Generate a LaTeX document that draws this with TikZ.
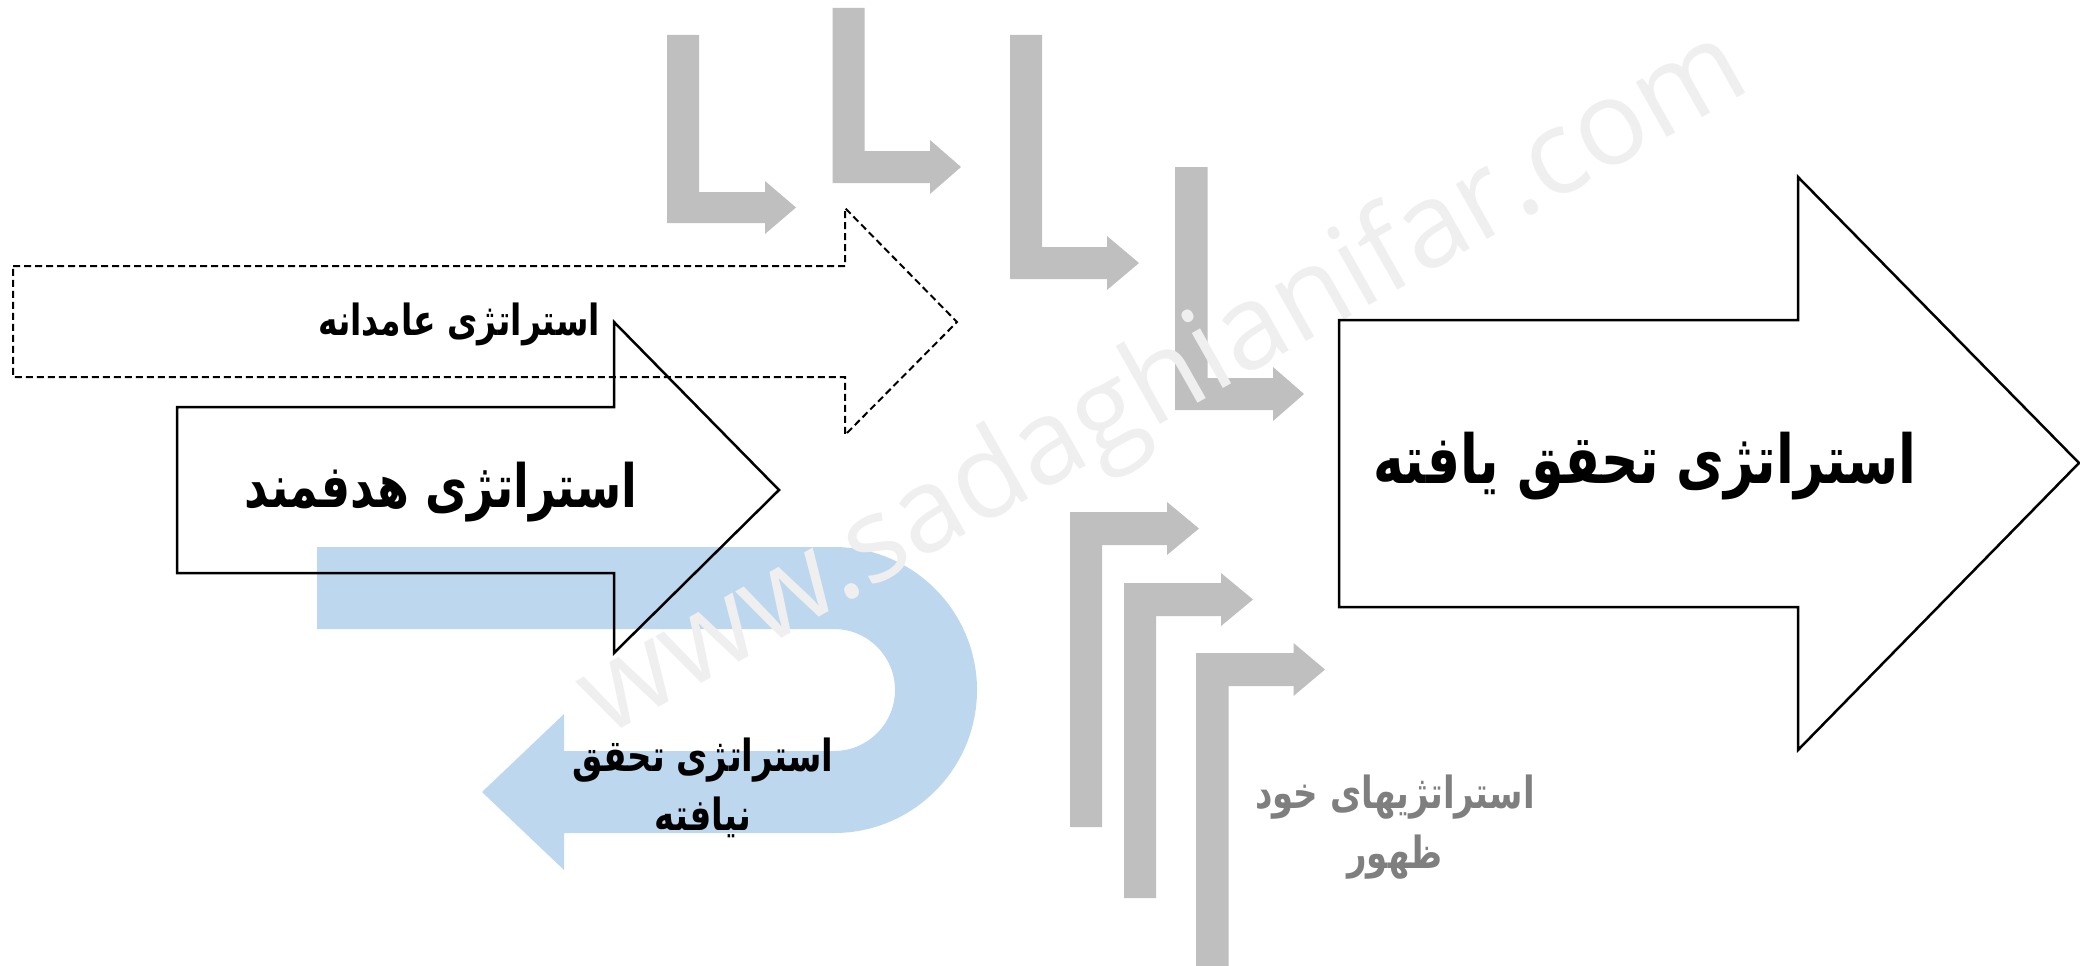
\documentclass[tikz,border=0pt]{standalone}
\usepackage{fontspec}
\newfontfamily\fa[Script=Arabic]{DejaVu Sans}
\newfontfamily\wmfont{Open Sans}
\TeXXeTstate=1
\definecolor{arrgray}{HTML}{BFBFBF}
\definecolor{ublue}{HTML}{BDD7EE}
\definecolor{wmgray}{HTML}{EFEFEF}
\definecolor{txtgray}{HTML}{7F7F7F}
\newcommand{\faline}[1]{\scalebox{1}[1.3]{\beginR #1\endR}}
\tikzset{
  grayarrow/.style={fill=arrgray, draw=none},
  bluearrow/.style={fill=ublue, draw=none},
  outl/.style={draw=black, line width=2.5pt, line join=miter},
  dashoutl/.style={draw=black, line width=2pt, dash pattern=on 7pt off 4pt, line join=miter},
  lbl/.style={text=black, inner sep=0pt, align=center},
  wmstyle/.style={text=wmgray, inner sep=0pt, font=\wmfont\fontsize{118}{140}\selectfont},
}
\begin{document}
\begin{tikzpicture}[x=1pt,y=-1pt]
\useasboundingbox (0,0) rectangle (2080,966);
% top gray L arrows
\fill[grayarrow] (667,35) -- (699,35) -- (699,192) -- (765,192) -- (765,181) -- (796,207.5) -- (765,234) -- (765,223) -- (667,223) -- cycle;
\fill[grayarrow] (832.5,8) -- (864.5,8) -- (864.5,151) -- (930,151) -- (930,140) -- (961,167) -- (930,194) -- (930,183) -- (832.5,183) -- cycle;
\fill[grayarrow] (1010,35) -- (1042,35) -- (1042,247) -- (1107,247) -- (1107,236) -- (1139,263) -- (1107,290) -- (1107,279) -- (1010,279) -- cycle;
\fill[grayarrow] (1175,167) -- (1207.5,167) -- (1207.5,378) -- (1273,378) -- (1273,367) -- (1304,394) -- (1273,421) -- (1273,410) -- (1175,410) -- cycle;
% bottom gray arrows
\fill[grayarrow] (1070,827) -- (1070,512) -- (1167,512) -- (1167,502) -- (1199,528.5) -- (1167,555) -- (1167,545) -- (1102,545) -- (1102,827) -- cycle;
\fill[grayarrow] (1124,898) -- (1124,583) -- (1221,583) -- (1221,573) -- (1253,599.5) -- (1221,626) -- (1221,616) -- (1156,616) -- (1156,898) -- cycle;
\fill[grayarrow] (1196,970) -- (1196,653) -- (1293.5,653) -- (1293.5,643) -- (1325,669.5) -- (1293.5,696) -- (1293.5,686) -- (1228.5,686) -- (1228.5,970) -- cycle;
% blue U-turn arrow
\fill[bluearrow] (317,547) -- (834,547) arc[start angle=-90, end angle=90, radius=143]
  -- (564,833) -- (564,870) -- (482,792) -- (564,714) -- (564,751) -- (834,751)
  arc[start angle=90, end angle=-90, radius=61] -- (317,629) -- cycle;
% watermark
\node[wmstyle, rotate=29.5, anchor=base] (wm) at (1180,413) {www.sadaghianifar.com};
% outlined arrows
\draw[dashoutl] (13,266) -- (845,266) -- (845,208) -- (957,322) -- (845,435) -- (845,377) -- (13,377) -- cycle;
\draw[outl] (177,407) -- (614,407) -- (614,322) -- (779,490) -- (614,653) -- (614,573) -- (177,573) -- cycle;
\draw[outl] (1339,320) -- (1798,320) -- (1798,177) -- (2079,463) -- (1798,750) -- (1798,607) -- (1339,607) -- cycle;
% labels
\node[lbl, font=\fa\bfseries\fontsize{33}{40}\selectfont] (t1) at (459,324) {\faline{استراتژی عامدانه}};
\node[lbl, font=\fa\bfseries\fontsize{46}{56}\selectfont] (t2) at (441,492) {\faline{استراتژی هدفمند}};
\node[lbl, font=\fa\bfseries\fontsize{52}{64}\selectfont] (t3) at (1645,466) {\faline{استراتژی تحقق یافته}};
\node[lbl, font=\fa\bfseries\fontsize{34}{59}\selectfont] (t4) at (703,788) {\faline{استراتژی تحقق}\\\faline{نیافته}};
\node[lbl, text=txtgray, font=\fa\bfseries\fontsize{34}{60}\selectfont] (t5) at (1395,827) {\faline{استراتژیهای خود}\\\faline{ظهور}};
\end{tikzpicture}
\end{document}
